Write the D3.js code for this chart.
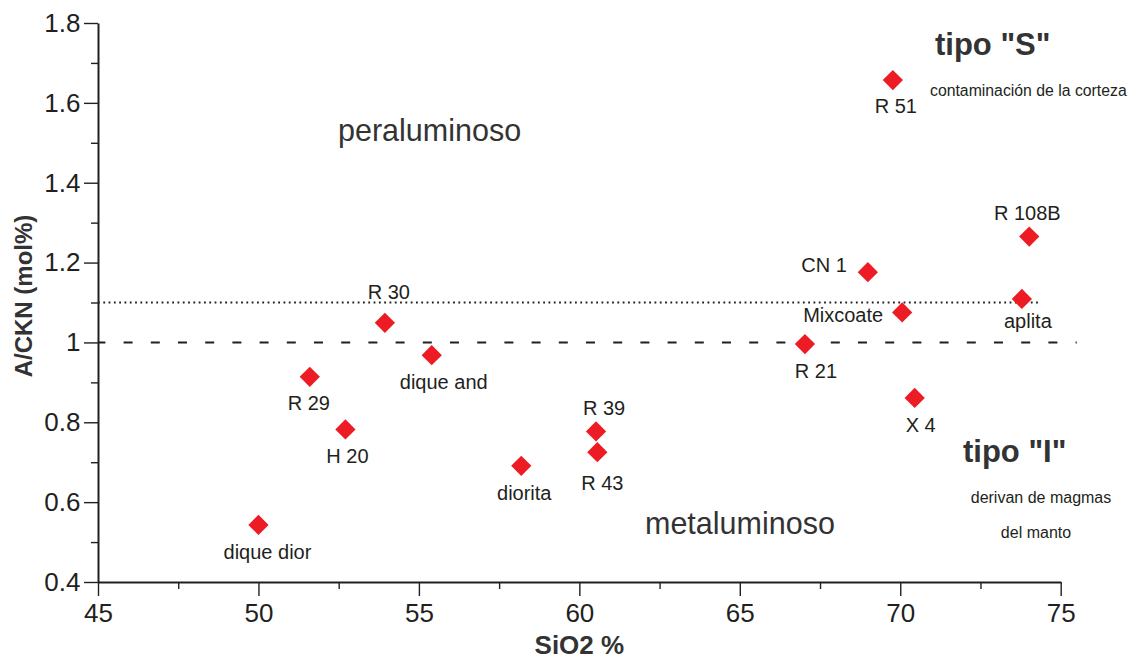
<!DOCTYPE html>
<html>
<head>
<meta charset="utf-8">
<script src="https://cdn.jsdelivr.net/npm/d3@7/dist/d3.min.js"></script>
<style>
  html, body { margin: 0; padding: 0; background: #fff; }
  svg { display: block; font-family: "Liberation Sans", Arial, sans-serif; }
  .axis path, .axis line { stroke: #231f20; }
  .axis text { fill: #231f20; }
</style>
</head>
<body>
<svg id="chart" width="1130" height="660"></svg>
<script>
// Samples: name, SiO2 (%) and A/CKN (mol%)
const sampleNames = ["dique dior", "R 29", "H 20", "R 30", "dique and", "diorita", "R 39", "R 43",
                     "R 21", "CN 1", "Mixcoate", "X 4", "R 108B", "aplita", "R 51"];
const sio2  = [50.0, 51.60, 52.71, 53.94, 55.40, 58.19, 60.52, 60.56,
               67.03, 68.99, 70.06, 70.45, 74.02, 73.79, 69.77];
const ackn  = [0.543, 0.914, 0.782, 1.049, 0.968, 0.691, 0.777, 0.725,
               0.996, 1.176, 1.075, 0.861, 1.265, 1.109, 1.657];

// Axis ticks
const xTicks = [45, 50, 55, 60, 65, 70, 75];
const xMinorTicks = [47.5, 52.5, 57.5, 62.5, 67.5, 72.5];
const yTicks = [0.4, 0.6, 0.8, 1.0, 1.2, 1.4, 1.6, 1.8];
const yTickLabels = ["0.4", "0.6", "0.8", "1", "1.2", "1.4", "1.6", "1.8"];
const yMinorTicks = [0.5, 0.7, 0.9, 1.1, 1.3, 1.5, 1.7];

// Boundary lines: metaluminous/peraluminous (A/CKN = 1) and I/S-type (A/CKN = 1.1)
const boundaryACKN = 1.0, boundaryEndSiO2 = 75.5;
const typeLimitACKN = 1.1, typeLimitEndSiO2 = 74.3;

// Label placement around each marker (pixels, text baseline)
const labelPlace = {
  "dique dior": { dx: 9,   dy: 34,  anchor: "middle" },
  "R 29":       { dx: -1,  dy: 33,  anchor: "middle" },
  "H 20":       { dx: 2,   dy: 34,  anchor: "middle" },
  "R 30":       { dx: 4,   dy: -24, anchor: "middle" },
  "dique and":  { dx: 12,  dy: 34,  anchor: "middle" },
  "diorita":    { dx: 3,   dy: 34,  anchor: "middle" },
  "R 39":       { dx: 8,   dy: -16, anchor: "middle" },
  "R 43":       { dx: 5,   dy: 38,  anchor: "middle" },
  "R 21":       { dx: 11,  dy: 34,  anchor: "middle" },
  "CN 1":       { dx: -21, dy: 0,   anchor: "end" },
  "Mixcoate":   { dx: -19, dy: 10,  anchor: "end" },
  "X 4":        { dx: 6,   dy: 34,  anchor: "middle" },
  "R 108B":     { dx: -2,  dy: -17, anchor: "middle" },
  "aplita":     { dx: 6,   dy: 29,  anchor: "middle" },
  "R 51":       { dx: 3,   dy: 33,  anchor: "middle" }
};

const W = 1130, H = 660;
const margin = { top: 23, right: 69.3, bottom: 78, left: 98 };

const svg = d3.select("#chart");
const x = d3.scaleLinear().domain([45, 75]).range([margin.left, W - margin.right]);
const y = d3.scaleLinear().domain([0.4, 1.8]).range([H - margin.bottom, margin.top]);

const ink = "#231f20";

// Reference lines
svg.append("line")
  .attr("x1", x(45)).attr("x2", x(boundaryEndSiO2))
  .attr("y1", y(boundaryACKN)).attr("y2", y(boundaryACKN))
  .attr("stroke", ink).attr("stroke-width", 2)
  .attr("stroke-dasharray", "9 18.2").attr("stroke-dashoffset", 1.6);

svg.append("line")
  .attr("x1", x(45)).attr("x2", x(typeLimitEndSiO2))
  .attr("y1", y(typeLimitACKN)).attr("y2", y(typeLimitACKN))
  .attr("stroke", ink).attr("stroke-width", 1.8)
  .attr("stroke-dasharray", "1.8 3.5");

// X axis (major + minor ticks)
const xAxisG = svg.append("g").attr("class", "axis")
  .attr("transform", `translate(0,${y(0.4)})`)
  .call(d3.axisBottom(x).tickValues(xTicks).tickSize(14).tickSizeOuter(0)
        .tickPadding(7.5).tickFormat(d3.format("d")));
xAxisG.select(".domain").attr("stroke-width", 2);
xAxisG.selectAll(".tick line").attr("stroke-width", 1.4);
xAxisG.selectAll(".tick text").attr("font-size", 26).attr("font-family", "Liberation Sans, Arial, sans-serif");

const xMinorG = svg.append("g").attr("class", "axis")
  .attr("transform", `translate(0,${y(0.4)})`)
  .call(d3.axisBottom(x).tickValues(xMinorTicks).tickSize(7).tickSizeOuter(0).tickFormat(""));
xMinorG.select(".domain").remove();
xMinorG.selectAll(".tick line").attr("stroke-width", 1.4);

// Y axis (major + minor ticks)
const yAxisG = svg.append("g").attr("class", "axis")
  .attr("transform", `translate(${x(45)},0)`)
  .call(d3.axisLeft(y).tickValues(yTicks).tickSize(14).tickSizeOuter(0)
        .tickPadding(3.5).tickFormat((d, i) => yTickLabels[i]));
yAxisG.select(".domain").attr("stroke-width", 2);
yAxisG.selectAll(".tick line").attr("stroke-width", 1.4);
yAxisG.selectAll(".tick text").attr("font-size", 26).attr("font-family", "Liberation Sans, Arial, sans-serif");

const yMinorG = svg.append("g").attr("class", "axis")
  .attr("transform", `translate(${x(45)},0)`)
  .call(d3.axisLeft(y).tickValues(yMinorTicks).tickSize(7).tickSizeOuter(0).tickFormat(""));
yMinorG.select(".domain").remove();
yMinorG.selectAll(".tick line").attr("stroke-width", 1.4);

// Axis titles
svg.append("text")
  .attr("transform", "translate(31.5,296) rotate(-90)")
  .attr("text-anchor", "middle")
  .attr("font-size", 24).attr("font-weight", "bold").attr("fill", "#333")
  .text("A/CKN (mol%)");

svg.append("text")
  .attr("x", (x(45) + x(75)) / 2).attr("y", 654)
  .attr("text-anchor", "middle")
  .attr("font-size", 26).attr("font-weight", "bold").attr("fill", "#333")
  .text("SiO2 %");

// Field names
svg.append("text").attr("x", 338).attr("y", 141)
  .attr("font-size", 30.5).attr("fill", "#333").text("peraluminoso");
svg.append("text").attr("x", 645).attr("y", 534)
  .attr("font-size", 30.5).attr("fill", "#333").text("metaluminoso");

svg.append("text").attr("x", 935).attr("y", 55)
  .attr("font-size", 31).attr("font-weight", "bold").attr("fill", "#333").text('tipo "S"');
svg.append("text").attr("x", 930).attr("y", 96)
  .attr("font-size", 15.8).attr("fill", ink).text("contaminación de la corteza");

svg.append("text").attr("x", 963).attr("y", 462)
  .attr("font-size", 31).attr("font-weight", "bold").attr("fill", "#333").text('tipo "I"');
svg.append("text").attr("x", 1041).attr("y", 503).attr("text-anchor", "middle")
  .attr("font-size", 16).attr("fill", ink).text("derivan de magmas");
svg.append("text").attr("x", 1036).attr("y", 538).attr("text-anchor", "middle")
  .attr("font-size", 16).attr("fill", ink).text("del manto");

// Sample markers: red diamonds
const samples = sampleNames.map((name, i) => ({ name, sio2: sio2[i], ackn: ackn[i] }));
const diamond = d3.symbol().type(d3.symbolSquare).size(205);

svg.append("g").selectAll("path")
  .data(samples)
  .join("path")
  .attr("d", diamond)
  .attr("transform", d => `translate(${x(d.sio2)},${y(d.ackn)}) rotate(45)`)
  .attr("fill", "#ed1c24");

svg.append("g").selectAll("text")
  .data(samples)
  .join("text")
  .attr("x", d => x(d.sio2) + labelPlace[d.name].dx)
  .attr("y", d => y(d.ackn) + labelPlace[d.name].dy)
  .attr("text-anchor", d => labelPlace[d.name].anchor)
  .attr("font-size", 20)
  .attr("fill", ink)
  .text(d => d.name);
</script>
</body>
</html>
